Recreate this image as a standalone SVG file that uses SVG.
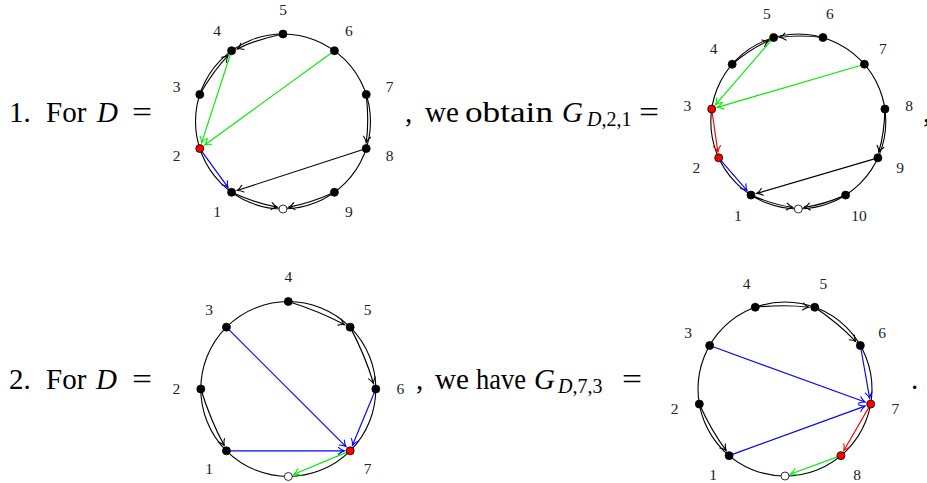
<svg xmlns="http://www.w3.org/2000/svg" width="927" height="483" viewBox="0 0 927 483">
<style>
.ring{fill:none;stroke:#000;stroke-width:1.1}
.e{fill:none;stroke-width:1.15}
.k{stroke:#000;marker-end:url(#ak)}
.g{stroke:#00ee00;marker-end:url(#ag)}
.b{stroke:#0000ff;marker-end:url(#ab)}
.r{stroke:#ff0000;marker-end:url(#ar)}
.n{fill:#000;stroke:#000;stroke-width:0.8}
.nr{fill:#ff0000;stroke:#000;stroke-width:0.8}
.nw{fill:#fff;stroke:#000;stroke-width:0.8}
.lb{font-family:"Liberation Serif","Times New Roman",serif;font-size:15.5px;fill:#222;text-anchor:middle}
.t{font-family:"Liberation Serif","Times New Roman",serif;font-size:29px;fill:#000}
.it{font-style:italic}
.sub{font-family:"Liberation Serif","Times New Roman",serif;font-size:20px;fill:#000}
</style>
<defs>
<marker id="ak" viewBox="-7 -5 8 10" refX="0" refY="0" markerWidth="8" markerHeight="10" markerUnits="userSpaceOnUse" orient="auto" overflow="visible"><path d="M-5.8,-3.5 C-3.6,-1.5 -1,-0.3 0,0 C-1,0.3 -3.6,1.5 -5.8,3.5" fill="none" stroke="#000" stroke-width="1.1" stroke-linecap="round"/></marker>
<marker id="ag" viewBox="-7 -5 8 10" refX="0" refY="0" markerWidth="8" markerHeight="10" markerUnits="userSpaceOnUse" orient="auto" overflow="visible"><path d="M-5.8,-3.5 C-3.6,-1.5 -1,-0.3 0,0 C-1,0.3 -3.6,1.5 -5.8,3.5" fill="none" stroke="#00ee00" stroke-width="1.1" stroke-linecap="round"/></marker>
<marker id="ab" viewBox="-7 -5 8 10" refX="0" refY="0" markerWidth="8" markerHeight="10" markerUnits="userSpaceOnUse" orient="auto" overflow="visible"><path d="M-5.8,-3.5 C-3.6,-1.5 -1,-0.3 0,0 C-1,0.3 -3.6,1.5 -5.8,3.5" fill="none" stroke="#0000ff" stroke-width="1.1" stroke-linecap="round"/></marker>
<marker id="ar" viewBox="-7 -5 8 10" refX="0" refY="0" markerWidth="8" markerHeight="10" markerUnits="userSpaceOnUse" orient="auto" overflow="visible"><path d="M-5.8,-3.5 C-3.6,-1.5 -1,-0.3 0,0 C-1,0.3 -3.6,1.5 -5.8,3.5" fill="none" stroke="#ff0000" stroke-width="1.1" stroke-linecap="round"/></marker>
</defs>

<!-- Text -->
<g id="text1">
<text class="t" x="9" y="122">1.</text>
<text class="t" x="46" y="122">For</text>
<text class="t it" x="97" y="122">D</text>
<text class="t" x="132" y="122" textLength="20" lengthAdjust="spacingAndGlyphs">=</text>
<text class="t" x="405" y="122">,</text>
<text class="t" x="425" y="122">we</text>
<text class="t" x="465" y="122" textLength="88" lengthAdjust="spacingAndGlyphs">obtain</text>
<text class="t it" x="562" y="122">G</text>
<text class="sub" x="587" y="126"><tspan font-style="italic">D</tspan>,2,1</text>
<text class="t" x="639" y="122" textLength="20" lengthAdjust="spacingAndGlyphs">=</text>
<text class="t" x="923" y="122">,</text>
</g>
<g id="text2">
<text class="t" x="9" y="388.5">2.</text>
<text class="t" x="46" y="388.5">For</text>
<text class="t it" x="96" y="388.5">D</text>
<text class="t" x="132" y="388.5" textLength="20" lengthAdjust="spacingAndGlyphs">=</text>
<text class="t" x="416" y="388.5">,</text>
<text class="t" x="435" y="388.5">we</text>
<text class="t" x="476" y="388.5" textLength="50" lengthAdjust="spacingAndGlyphs">have</text>
<text class="t it" x="534" y="388.5">G</text>
<text class="sub" x="558" y="392.5"><tspan font-style="italic">D</tspan>,7,3</text>
<text class="t" x="622" y="388.5" textLength="20" lengthAdjust="spacingAndGlyphs">=</text>
<text class="t" x="911" y="388.5">.</text>
</g>

<!-- Diagram 1 -->
<circle class="ring" cx="283" cy="121.5" r="87.5"/>
<g id="d1-edges">
<path class="e k" d="M283,34 Q256.36,39.51 237.28,48.86"/>
<path class="e k" d="M199.78,94.46 Q213.25,70.83 228.04,55.56"/>
<path class="e g" d="M231.57,50.71 L201.63,142.83"/>
<path class="e g" d="M334.43,50.71 L204.63,145.01"/>
<path class="e k" d="M366.22,94.46 Q369.22,121.5 366.22,142.54"/>
<path class="e k" d="M366.22,148.54 L237.28,190.44"/>
<path class="e b" d="M199.78,148.54 L228.04,187.44"/>
<path class="e k" d="M231.57,192.29 Q256.36,203.5 277.29,207.15"/>
<path class="e k" d="M334.43,192.29 Q309.65,203.5 288.71,207.15"/>
</g>
<g id="d1-w"><circle class="nw" cx="283" cy="209" r="4"/></g>
<g id="d1-n1"><circle class="n" cx="231.57" cy="192.29" r="4"/><text class="lb" x="217.2" y="217.4">1</text></g>
<g id="d1-n2"><circle class="nr" cx="199.78" cy="148.54" r="4"/><text class="lb" x="176.5" y="161.4">2</text></g>
<g id="d1-n3"><circle class="n" cx="199.78" cy="94.46" r="4"/><text class="lb" x="176.5" y="92.2">3</text></g>
<g id="d1-n4"><circle class="n" cx="231.57" cy="50.71" r="4"/><text class="lb" x="217.2" y="36.2">4</text></g>
<g id="d1-n5"><circle class="n" cx="283" cy="34" r="4"/><text class="lb" x="283" y="14.8">5</text></g>
<g id="d1-n6"><circle class="n" cx="334.43" cy="50.71" r="4"/><text class="lb" x="348.8" y="36.2">6</text></g>
<g id="d1-n7"><circle class="n" cx="366.22" cy="94.46" r="4"/><text class="lb" x="389.5" y="92.2">7</text></g>
<g id="d1-n8"><circle class="n" cx="366.22" cy="148.54" r="4"/><text class="lb" x="389.5" y="161.4">8</text></g>
<g id="d1-n9"><circle class="n" cx="334.43" cy="192.29" r="4"/><text class="lb" x="348.8" y="217.4">9</text></g>

<!-- Diagram 2 -->
<circle class="ring" cx="798.3" cy="121.5" r="87.5"/>
<g id="d2-edges">
<path class="e k" d="M822.95,37.54 Q798.3,34.54 779.65,37.54"/>
<path class="e k" d="M732.18,64.2 Q751.3,48.35 768.6,40.78"/>
<path class="e g" d="M773.65,37.54 L715.62,104.52"/>
<path class="e g" d="M864.42,64.2 L717.45,107.36"/>
<path class="e r" d="M711.69,109.05 L717.86,151.91"/>
<path class="e k" d="M884.91,109.05 Q884.37,133.88 878.74,151.91"/>
<path class="e k" d="M877.89,157.85 L756.76,193.42"/>
<path class="e b" d="M718.71,157.85 L747.07,190.58"/>
<path class="e k" d="M751,195.11 Q773.8,204.94 792.54,207.31"/>
<path class="e k" d="M845.6,195.11 Q822.8,204.94 804.06,207.31"/>
</g>
<g id="d2-w"><circle class="nw" cx="798.3" cy="209" r="4"/></g>
<g id="d2-n1"><circle class="n" cx="751" cy="195.11" r="4"/><text class="lb" x="737.8" y="221">1</text></g>
<g id="d2-n2"><circle class="nr" cx="718.71" cy="157.85" r="4"/><text class="lb" x="696.4" y="173.3">2</text></g>
<g id="d2-n3"><circle class="nr" cx="711.69" cy="109.05" r="4"/><text class="lb" x="687.4" y="110.9">3</text></g>
<g id="d2-n4"><circle class="n" cx="732.18" cy="64.2" r="4"/><text class="lb" x="713.7" y="53.5">4</text></g>
<g id="d2-n5"><circle class="n" cx="773.65" cy="37.54" r="4"/><text class="lb" x="766.8" y="19.3">5</text></g>
<g id="d2-n6"><circle class="n" cx="822.95" cy="37.54" r="4"/><text class="lb" x="829.9" y="19.3">6</text></g>
<g id="d2-n7"><circle class="n" cx="864.42" cy="64.2" r="4"/><text class="lb" x="882.9" y="53.5">7</text></g>
<g id="d2-n8"><circle class="n" cx="884.91" cy="109.05" r="4"/><text class="lb" x="909.2" y="110.9">8</text></g>
<g id="d2-n9"><circle class="n" cx="877.89" cy="157.85" r="4"/><text class="lb" x="900.2" y="173.3">9</text></g>
<g id="d2-n10"><circle class="n" cx="845.6" cy="195.11" r="4"/><text class="lb" x="858.9" y="221">10</text></g>

<!-- Diagram 3 -->
<circle class="ring" cx="288.3" cy="389" r="87.5"/>
<g id="d3-edges">
<path class="e k" d="M288.3,301.5 Q320.39,311.55 344.63,324.83"/>
<path class="e k" d="M350.17,327.13 Q365.76,356.92 373.5,383.46"/>
<path class="e k" d="M200.8,389 Q210.85,421.09 224.13,445.33"/>
<path class="e b" d="M226.43,327.13 L345.93,446.63"/>
<path class="e b" d="M375.8,389 L352.47,445.33"/>
<path class="e b" d="M226.43,450.87 L344.17,450.87"/>
<path class="e g" d="M350.17,450.87 L293.84,474.2"/>
</g>
<g id="d3-w"><circle class="nw" cx="288.3" cy="476.5" r="4"/></g>
<g id="d3-n1"><circle class="n" cx="226.43" cy="450.87" r="4"/><text class="lb" x="209.1" y="473.5">1</text></g>
<g id="d3-n2"><circle class="n" cx="200.8" cy="389" r="4"/><text class="lb" x="176.3" y="394.3">2</text></g>
<g id="d3-n3"><circle class="n" cx="226.43" cy="327.13" r="4"/><text class="lb" x="209.1" y="315.1">3</text></g>
<g id="d3-n4"><circle class="n" cx="288.3" cy="301.5" r="4"/><text class="lb" x="288.3" y="282.3">4</text></g>
<g id="d3-n5"><circle class="n" cx="350.17" cy="327.13" r="4"/><text class="lb" x="367.5" y="315.1">5</text></g>
<g id="d3-n6"><circle class="n" cx="375.8" cy="389" r="4"/><text class="lb" x="400.3" y="394.3">6</text></g>
<g id="d3-n7"><circle class="nr" cx="350.17" cy="450.87" r="4"/><text class="lb" x="367.5" y="473.5">7</text></g>

<!-- Diagram 4 -->
<circle class="ring" cx="785" cy="389" r="87"/>
<g id="d4-edges">
<path class="e k" d="M755.25,307.25 Q785,304.25 808.75,307.25"/>
<path class="e k" d="M814.75,307.25 Q839.48,324.08 855.74,341.64"/>
<path class="e k" d="M699.32,404.1 Q711.6,431.37 726.08,450.44"/>
<path class="e b" d="M709.66,345.5 L865.04,402.05"/>
<path class="e b" d="M860.34,345.5 L869.64,398.19"/>
<path class="e b" d="M729.08,455.64 L865.04,406.15"/>
<path class="e r" d="M870.68,404.1 L843.92,450.44"/>
<path class="e g" d="M840.92,455.64 L790.64,473.95"/>
</g>
<g id="d4-w"><circle class="nw" cx="785" cy="476" r="4"/></g>
<g id="d4-n1"><circle class="n" cx="729.08" cy="455.64" r="4"/><text class="lb" x="713" y="480.1">1</text></g>
<g id="d4-n2"><circle class="n" cx="699.32" cy="404.1" r="4"/><text class="lb" x="674.7" y="413.7">2</text></g>
<g id="d4-n3"><circle class="n" cx="709.66" cy="345.5" r="4"/><text class="lb" x="688" y="338.3">3</text></g>
<g id="d4-n4"><circle class="n" cx="755.25" cy="307.25" r="4"/><text class="lb" x="746.7" y="289.1">4</text></g>
<g id="d4-n5"><circle class="n" cx="814.75" cy="307.25" r="4"/><text class="lb" x="823.3" y="289.1">5</text></g>
<g id="d4-n6"><circle class="n" cx="860.34" cy="345.5" r="4"/><text class="lb" x="882" y="338.3">6</text></g>
<g id="d4-n7"><circle class="nr" cx="870.68" cy="404.1" r="4"/><text class="lb" x="895.3" y="413.7">7</text></g>
<g id="d4-n8"><circle class="nr" cx="840.92" cy="455.64" r="4"/><text class="lb" x="857" y="480.1">8</text></g>
</svg>
